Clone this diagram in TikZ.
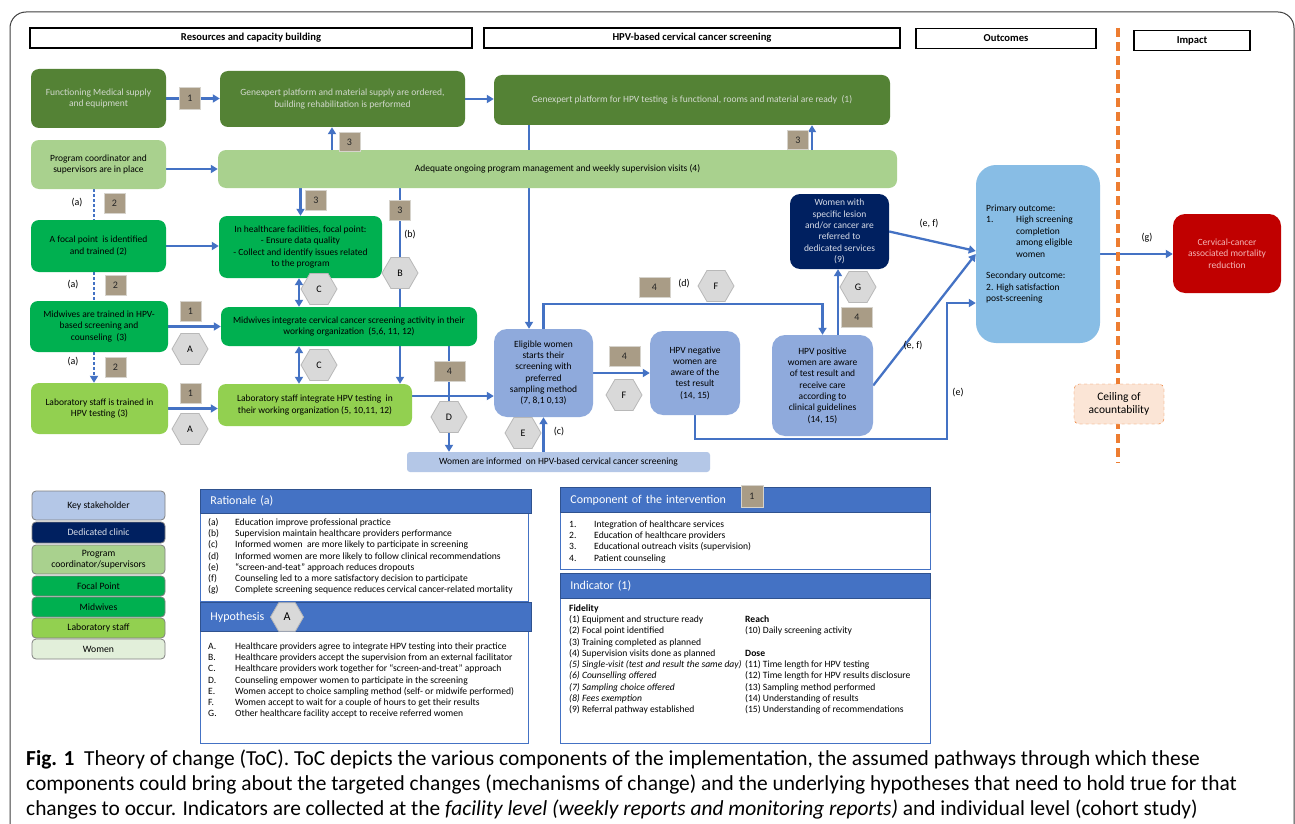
\documentclass[tikz,border=0pt]{standalone}
\usepackage{fontspec}
\setmainfont{Carlito}
\usetikzlibrary{arrows.meta,shapes.geometric,positioning}
\pgfdeclarelayer{bg}
\pgfsetlayers{bg,main}
\definecolor{cDark}{HTML}{548235}
\definecolor{cDarkTxt}{HTML}{D3D9CE}
\definecolor{cLight}{HTML}{A9D18E}
\definecolor{cGreen}{HTML}{00B050}
\definecolor{cLab}{HTML}{92D050}
\definecolor{cKey}{HTML}{8FAADC}
\definecolor{cInfo}{HTML}{B4C7E7}
\definecolor{cNavy}{HTML}{002060}
\definecolor{cNavyTxt}{HTML}{D9DDE8}
\definecolor{cSky}{HTML}{88BDE5}
\definecolor{cRed}{HTML}{C00000}
\definecolor{cRedTxt}{HTML}{F4B6B6}
\definecolor{cTag}{HTML}{A99C86}
\definecolor{cTagLine}{HTML}{D6D3CC}
\definecolor{cHex}{HTML}{D9D9D9}
\definecolor{cHexLine}{HTML}{B8B8B8}
\definecolor{cArrow}{HTML}{4472C4}
\definecolor{cOrange}{HTML}{ED7D31}
\definecolor{cPeach}{HTML}{FBE5D6}
\definecolor{cWomenKey}{HTML}{E2EFDA}
\definecolor{cPanel}{HTML}{4472C4}
\definecolor{cPanelLine}{HTML}{2F528F}

\begin{document}
\begin{tikzpicture}[x=1pt,y=-1pt,
    box/.style={rounded corners=8pt, align=center, inner sep=1pt, font=\fontsize{9.5}{11.3}\selectfont},
    darkbox/.style={box, fill=cDark, text=cDarkTxt},
    coordbox/.style={box, fill=cLight},
    focalbox/.style={box, fill=cGreen},
    labbox/.style={box, fill=cLab},
    womenbox/.style={box, fill=cKey, rounded corners=13pt},
    colhead/.style={draw=black, line width=1.2pt, fill=white, minimum height=20, font=\fontsize{10.6}{12}\selectfont\bfseries},
    tag/.style={fill=cTag, draw=cTagLine, line width=0.8pt, minimum width=21, minimum height=20, inner sep=0pt, text=black!85, font=\fontsize{10}{12}\selectfont},
    widetag/.style={tag, minimum width=31},
    hyp/.style={regular polygon, regular polygon sides=6, minimum size=36, inner sep=0pt, fill=cHex, draw=cHexLine, line width=0.8pt, font=\fontsize{10}{12}\selectfont},
    flow/.style={draw=cArrow, line width=2.3pt, -{Triangle[length=7pt,width=8pt]}},
    twoway/.style={draw=cArrow, line width=2.3pt, {Triangle[length=7pt,width=8pt]}-{Triangle[length=7pt,width=8pt]}},
    dotline/.style={draw=cArrow, line width=2.3pt, dash pattern=on 2.3pt off 2.7pt},
    reason/.style={inner sep=1pt, font=\fontsize{10}{12}\selectfont},
    keybox/.style={draw=black!50, line width=0.8pt, rounded corners=4pt, minimum width=133, inner sep=0pt, align=center, font=\fontsize{9.7}{11.5}\selectfont},
    phead/.style={fill=cPanel, draw=cPanelLine, line width=0.8pt, text=white, inner xsep=10pt, inner ysep=0pt, align=left, font=\fontsize{12}{14}\selectfont},
    pbody/.style={draw=cPanel, line width=1pt, fill=white, inner sep=0pt},
    listtxt/.style={inner sep=0pt, font=\fontsize{9.6}{11.3}\selectfont}
  ]
  \useasboundingbox (0,0) rectangle (1295,824);
  \clip (0,0) rectangle (1295,824);
  \begin{pgfonlayer}{bg}
    \fill[white] (0,0) rectangle (1295,824);
  \end{pgfonlayer}
  % Frame of the figure
  \draw[black!75, line width=1pt, rounded corners=16pt] (10,12) rectangle (1294,870);

  % Column headers
  \node[colhead, minimum width=442] (hRes) at (251,38) {Resources and capacity building};
  \node[colhead, minimum width=416] (hHpv) at (692,38) {HPV-based cervical cancer screening};
  \node[colhead, minimum width=180] (hOut) at (1006,38.5) {Outcomes};
  \node[colhead, minimum width=116] (hImp) at (1192,40.5) {Impact};

  % Ceiling of accountability
  \draw[cOrange, line width=3.5pt, dash pattern=on 9pt off 5pt] (1118,28) -- (1118,463);
  \node[draw=cOrange, dashed, fill=cPeach, rounded corners=5pt, minimum width=90, minimum height=40, align=center, font=\fontsize{11.5}{13.5}\selectfont] (ceil) at (1119,404) {Ceiling of\\acountability};

  % Resources and capacity building
  \node[darkbox, minimum width=135, minimum height=59] (fmed) at (98.5,98.5) {Functioning Medical supply\\and equipment};
  \node[darkbox, minimum width=245, minimum height=56] (gorder) at (342.5,99) {Genexpert platform and material supply are ordered,\\building rehabilitation is performed};
  \node[darkbox, minimum width=396, minimum height=50] (gready) at (692,100) {Genexpert platform for HPV testing\ \ is functional, rooms and material are ready\ \ (1)};
  \node[coordbox, minimum width=135, minimum height=49] (coord) at (98.5,164.5) {Program coordinator and\\supervisors are in place};
  \node[coordbox, minimum width=679, minimum height=38] (manage) at (557.5,169) {Adequate ongoing program management and weekly supervision visits (4)};
  \node[focalbox, minimum width=135, minimum height=52] (fpoint) at (98.5,246) {A focal point\ \ is identified\\and trained (2)};
  \node[focalbox, minimum width=163, minimum height=62] (focal) at (300.5,247) {In healthcare facilities, focal point:\\- Ensure data quality\\- Collect and identify issues related\\to the program};
  \node[focalbox, minimum width=138, minimum height=51] (midtrain) at (99,326.5) {Midwives are trained in HPV-\\based screening and\\counseling\ \ (3)};
  \node[focalbox, minimum width=256, minimum height=39] (midint) at (349,326.5) {Midwives integrate cervical cancer screening activity in their\\working organization\ \ (5,6, 11, 12)};
  \node[labbox, minimum width=137, minimum height=51] (labtrain) at (99.5,408.5) {Laboratory staff is trained in\\HPV testing (3)};
  \node[labbox, minimum width=194, minimum height=42] (labint) at (315,405) {Laboratory staff integrate HPV testing\ \ in\\their working organization (5, 10,11, 12)};

  % Screening
  \node[womenbox, minimum width=99, minimum height=88] (elig) at (543.5,373) {Eligible women\\starts their\\screening with\\preferred\\sampling method\\(7, 8,1 0,13)};
  \node[womenbox, minimum width=90, minimum height=84] (neg) at (695,373) {HPV negative\\women are\\aware of the\\test result\\(14, 15)};
  \node[womenbox, minimum width=101, minimum height=101] (pos) at (822.5,385.5) {HPV positive\\women are aware\\of test result and\\receive care\\according to\\clinical guidelines\\(14, 15)};
  \node[box, fill=cNavy, text=cNavyTxt, rounded corners=10pt, minimum width=99, minimum height=75] (refer) at (839.5,231.5) {Women with\\specific lesion\\and/or cancer are\\referred to\\dedicated services\\(9)};
  \node[box, fill=cInfo, rounded corners=3pt, minimum width=303, minimum height=20] (inform) at (558.5,462) {Women are informed\ \ on HPV-based cervical cancer screening};

  % Outcomes and impact
  \node[box, fill=cSky, rounded corners=20pt, minimum width=124, minimum height=178] (outc) at (1038,254) {};
  \node[anchor=west, align=left, inner sep=0pt, font=\fontsize{9.5}{11.5}\selectfont] (outcText) at (986,254) {Primary outcome:\\\makebox[30pt][l]{1.}High screening\\\hspace*{30pt}completion\\\hspace*{30pt}among eligible\\\hspace*{30pt}women\\[10pt]Secondary outcome:\\2. High satisfaction\\post-screening};
  \node[box, fill=cRed, text=cRedTxt, rounded corners=12pt, minimum width=108, minimum height=79] (impact) at (1227,253.5) {Cervical-cancer\\associated mortality\\reduction};

  % Component tags
  \node[tag, minimum height=22] (t1a) at (190,98) {1};
  \node[tag] (t1b) at (190.5,311.5) {1};
  \node[tag] (t1c) at (190.5,393) {1};
  \node[tag] (t2a) at (114.5,203) {2};
  \node[tag] (t2b) at (115.5,285) {2};
  \node[tag] (t2c) at (115.5,367.5) {2};
  \node[tag, minimum height=19] (t3a) at (349.5,142) {3};
  \node[tag, minimum height=19] (t3b) at (798,140) {3};
  \node[tag] (t3c) at (316,200.5) {3};
  \node[tag] (t3d) at (400,210.5) {3};
  \node[widetag] (t4a) at (449.5,371.5) {4};
  \node[widetag] (t4b) at (624.5,356) {4};
  \node[widetag] (t4c) at (654.5,287) {4};
  \node[widetag] (t4d) at (857,317) {4};

  % Hypotheses
  \node[hyp] (hA1) at (190,349) {A};
  \node[hyp] (hA2) at (190,429) {A};
  \node[hyp] (hC1) at (319,289) {C};
  \node[hyp] (hC2) at (319,365) {C};
  \node[hyp] (hB) at (400,273) {B};
  \node[hyp] (hD) at (449,417) {D};
  \node[hyp] (hE) at (523,433) {E};
  \node[hyp] (hF1) at (624,395) {F};
  \node[hyp] (hF2) at (716,286) {F};
  \node[hyp] (hG) at (858,287) {G};

  % Rationale letters
  \node[reason] (ra1) at (77,203) {(a)};
  \node[reason] (ra2) at (73,285) {(a)};
  \node[reason] (ra3) at (73,362) {(a)};
  \node[reason] (rb) at (410,235) {(b)};
  \node[reason] (rc) at (559,432) {(c)};
  \node[reason] (rd) at (684,284) {(d)};
  \node[reason] (ref1) at (929,224) {(e, f)};
  \node[reason] (ref2) at (913,346) {(e, f)};
  \node[reason] (re) at (958,393) {(e)};
  \node[reason] (rg) at (1147,238) {(g)};

  \coordinate (dturn) at (822.5,304);
  \coordinate (eturn) at (947,439);

  % Draw the connectors
  \begin{pgfonlayer}{bg}
    \draw[flow] (fmed.east) -- (gorder.west |- fmed.east);
    \draw[flow] (gorder.east) -- (gready.west |- gorder.east);
    \draw[flow] (coord.east |- manage.west) -- (manage.west);
    \draw[flow] ([xshift=-10.5]gorder.south |- manage.north) -- ([xshift=-10.5]gorder.south);
    \draw[flow] ([xshift=120]gready.south |- manage.north) -- ([xshift=120]gready.south);
    \draw[flow] ([xshift=-14.5]elig.north |- gready.south) -- ([xshift=-14.5]elig.north);
    \draw[flow] (focal.north |- manage.south) -- (focal.north);
    \draw[flow] ([xshift=85]labint.north |- manage.south) -- ([xshift=85]labint.north);
    \draw[flow] (fpoint.east) -- (focal.west |- fpoint.east);
    \draw[twoway] ([xshift=-1.5]focal.south) -- ([xshift=-1.5]focal.south |- midint.north);
    \draw[twoway] ([xshift=-1.5]focal.south |- midint.south) -- ([xshift=-1.5]focal.south |- labint.north);
    \draw[flow] (midtrain.east) -- (midint.west |- midtrain.east);
    \draw[flow] (labtrain.east) -- (labint.west |- labtrain.east);
    \draw[dotline] ([xshift=-4.5]coord.south) -- ([xshift=-4.5]fpoint.north);
    \draw[dotline] ([xshift=-4.5]fpoint.south) -- ([xshift=-5]midtrain.north);
    \draw[dotline, -{Triangle[length=7pt,width=8pt]}] ([xshift=-5]midtrain.south) -- ([xshift=-5.5]labtrain.north);
    \draw[flow] ([xshift=100]midint.south) -- ([xshift=100]midint.south |- inform.north);
    \draw[flow] ([yshift=9]labint.east) -- ([yshift=9]labint.east -| elig.west);
    \draw[flow] (elig.east) -- (neg.west |- elig.east);
    \draw[flow] (inform.north -| elig.south) -- (elig.south);
    \draw[flow] (elig.north) |- (dturn) -- (pos.north);
    \draw[flow] ([xshift=15.5]pos.north) -- ([xshift=15.5]pos.north |- refer.south);
    \draw[flow] (refer.east) -- ([yshift=3]outc.west);
    \draw[flow] (pos.east) -- (outc.west);
    \draw[flow] (neg.south) |- (eturn) |- ([yshift=-49]outc.west);
    \draw[flow] (outc.east) -- (impact.west |- outc.east);
  \end{pgfonlayer}

  % Key stakeholders
  \node[keybox, fill=cInfo, minimum height=29] (kKey) at (98.5,505.5) {Key stakeholder};
  \node[keybox, fill=cNavy, text=cNavyTxt, minimum height=21] (kClinic) at (98.5,532.5) {Dedicated clinic};
  \node[keybox, fill=cLight, minimum height=29] (kCoord) at (98.5,559.5) {Program\\coordinator/supervisors};
  \node[keybox, fill=cGreen, minimum height=20] (kFocal) at (98.5,586) {Focal Point};
  \node[keybox, fill=cGreen, minimum height=20] (kMid) at (98.5,607) {Midwives};
  \node[keybox, fill=cLab, minimum height=20] (kLab) at (98.5,628) {Laboratory staff};
  \node[keybox, fill=cWomenKey, minimum height=20] (kWomen) at (98.5,649) {Women};

  % Rationale
  \node[pbody, minimum width=328, minimum height=89, anchor=north west] (ratBody) at (200,512) {};
  \node[phead, text width=311, minimum height=24, anchor=north west] (ratHead) at (200,489) {Rationale (a)};
  \node[listtxt, anchor=north west] (ratList) at (208,517) {\begin{tabular}{@{}p{27pt}@{}l@{}}
    (a)&Education improve professional practice\\
    (b)&Supervision maintain healthcare providers performance\\
    (c)&Informed women\ \ are more likely to participate in screening\\
    (d)&Informed women are more likely to follow clinical recommendations\\
    (e)&“screen-and-teat” approach reduces dropouts\\
    (f)&Counseling led to a more satisfactory decision to participate\\
    (g)&Complete screening sequence reduces cervical cancer-related mortality
  \end{tabular}};

  % Hypothesis
  \node[pbody, minimum width=328, minimum height=112, anchor=north west] (hypBody) at (200,631) {};
  \node[phead, text width=311, minimum height=29, anchor=north west] (hypHead) at (200,602) {Hypothesis};
  \node[hyp, minimum size=33, font=\fontsize{12}{14}\selectfont] (hypA) at (287,617) {A};
  \node[listtxt, anchor=north west] (hypList) at (208,641) {\begin{tabular}{@{}p{27pt}@{}l@{}}
    A.&Healthcare providers agree to integrate HPV testing into their practice\\
    B.&Healthcare providers accept the supervision from an external facilitator\\
    C.&Healthcare providers work together for “screen-and-treat” approach\\
    D.&Counseling empower women to participate in the screening\\
    E.&Women accept to choice sampling method (self- or midwife performed)\\
    F.&Women accept to wait for a couple of hours to get their results\\
    G.&Other healthcare facility accept to receive referred women
  \end{tabular}};

  % Component of the intervention
  \node[pbody, minimum width=370, minimum height=58, anchor=north west] (compBody) at (560,511) {};
  \node[phead, text width=350, minimum height=25, anchor=north west] (compHead) at (560,487) {Component of the intervention};
  \node[tag, minimum width=22, minimum height=22] (compTag) at (752,496) {1};
  \node[listtxt, anchor=north west] (compList) at (569,519) {\begin{tabular}{@{}p{25pt}@{}l@{}}
    1.&Integration of healthcare services\\
    2.&Education of healthcare providers\\
    3.&Educational outreach visits (supervision)\\
    4.&Patient counseling
  \end{tabular}};

  % Indicator
  \node[pbody, minimum width=370, minimum height=145, anchor=north west] (indBody) at (560,598) {};
  \node[phead, text width=350, minimum height=25, anchor=north west] (indHead) at (560,573) {Indicator (1)};
  \node[listtxt, anchor=north west] (indList) at (569,603) {\begin{tabular}{@{}p{176pt}@{}l@{}}
    \textbf{Fidelity}&\\
    (1) Equipment and structure ready&\textbf{Reach}\\
    (2) Focal point identified&(10) Daily screening activity\\
    (3) Training completed as planned&\\
    (4) Supervision visits done as planned&\textbf{Dose}\\
    \textit{(5) Single-visit (test and result the same day)}&(11) Time length for HPV testing\\
    \textit{(6) Counselling offered}&(12) Time length for HPV results disclosure\\
    \textit{(7) Sampling choice offered}&(13) Sampling method performed\\
    \textit{(8) Fees exemption}&(14) Understanding of results\\
    (9) Referral pathway established&(15) Understanding of recommendations
  \end{tabular}};

  % Caption
  \node[anchor=base west, inner sep=0pt, font=\fontsize{21.4}{24}\selectfont] (cap1) at (26,765) {\textbf{Fig. 1}\ \ Theory of change (ToC). ToC depicts the various components of the implementation, the assumed pathways through which these};
  \node[anchor=base west, inner sep=0pt, font=\fontsize{21.4}{24}\selectfont] (cap2) at (26,790) {components could bring about the targeted changes (mechanisms of change) and the underlying hypotheses that need to hold true for that};
  \node[anchor=base west, inner sep=0pt, font=\fontsize{21.4}{24}\selectfont] (cap3) at (26,815) {changes to occur. Indicators are collected at the \textit{facility level (weekly reports and monitoring reports)} and individual level (cohort study)};
\end{tikzpicture}
\end{document}
